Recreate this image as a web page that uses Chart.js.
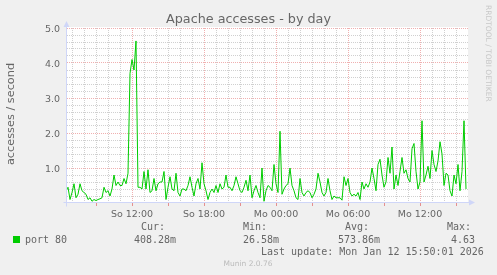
<!DOCTYPE html>
<html>
<head>
<meta charset="utf-8">
<script src="https://cdn.jsdelivr.net/npm/chart.js@4.4.0/dist/chart.umd.min.js"></script>
<style>
  html, body { margin: 0; padding: 0; background: #f0f0f0; }
  canvas { display: block; }
</style>
</head>
<body>
<canvas id="chart" width="497" height="275"></canvas>
<script>
// ===== Datos =====
const chartTitle = 'Apache accesses - by day';
const yAxisTitle = 'accesses / second';
const seriesName = 'port 80';
const firstPointHour = 6.5;        // So 06:30
const stepHours = 1 / 6;           // 10 min
const axisStartHour = 6 + 35 / 60; // So 06:35
const axisEndHour = 40;            // Mo 16:00

const accesses = [
  0.35, 0.45, 0.1, 0.3, 0.55, 0.15, 0.25, 0.55, 0.35, 0.3, 0.25, 0.1, 0.15, 0.05, 0.1, 0.07, 0.1, 0.12,
  0.15, 0.45, 0.3, 0.35, 0.2, 0.4, 0.8, 0.5, 0.6, 0.5, 0.5, 0.7, 0.55, 0.85, 3.7, 4.1, 3.8, 4.63,
  0.45, 0.45, 0.4, 0.9, 0.4, 0.95, 0.3, 0.35, 0.7, 0.35, 0.55, 0.6, 0.6, 0.9, 0.1, 0.45,
  0.75, 0.4, 0.35, 0.85, 0.3, 0.2, 0.4, 0.4, 0.35, 0.5, 0.75, 0.45, 0.2, 0.55, 0.7, 0.4,
  1.15, 0.55, 0.35, 0.1, 0.3, 0.4, 0.3, 0.5, 0.3, 0.55, 0.4, 0.45, 0.8, 0.45, 0.45, 0.35, 0.5,
  0.75, 0.55, 0.35, 0.3, 0.45, 0.65, 0.35, 0.8, 0.15, 0.35, 0.5, 0.3, 0.15, 1.0, 0.05, 0.35, 0.5,
  0.45, 0.35, 1.1, 0.55, 0.3, 2.05, 0.25, 0.4, 0.5, 0.55, 1.0, 0.5, 0.35, 0.15, 0.1, 0.7, 0.3,
  0.2, 0.3, 0.35, 0.3, 0.15, 0.25, 0.4, 0.85, 0.6, 0.3, 0.2, 0.3, 0.7, 0.35, 0.1, 0.2, 0.15,
  0.15, 0.15, 0.08, 0.75, 0.5, 0.7, 0.3, 0.2, 0.25, 0.2, 0.3, 0.1, 0.6, 0.4, 0.55, 0.45, 0.6,
  1.0, 0.7, 0.35, 1.1, 1.25, 0.8, 0.45, 0.6, 1.3, 0.85, 1.6, 0.4, 0.8, 0.5, 0.9, 1.3, 0.85,
  0.95, 0.7, 0.6, 1.55, 1.7, 0.9, 0.4, 0.6, 2.35, 0.6, 0.8, 1.05, 0.7, 1.5, 1.1, 0.9,
  1.2, 1.75, 1.4, 0.5, 0.85, 0.8, 0.35, 0.2, 0.8, 0.55, 1.1, 0.35, 0.9, 2.35, 0.4
];

const xTickHours = [12, 18, 24, 30, 36];
const xTickLabels = ['So 12:00', 'So 18:00', 'Mo 00:00', 'Mo 06:00', 'Mo 12:00'];
const yTickValues = [1, 2, 3, 4, 5];
const yTickLabels = ['1.0', '2.0', '3.0', '4.0', '5.0'];

const statLabels = ['Cur:', 'Min:', 'Avg:', 'Max:'];
const statValues = ['408.28m', '26.58m', '573.86m', '4.63'];
const lastUpdate = 'Last update: Mon Jan 12 15:50:01 2026';
const watermark = 'RRDTOOL / TOBI OETIKER';
const version = 'Munin 2.0.76';

// ===== Colores (estilo munin) =====
const FONT = '#666666', AXIS = '#cfd6f8', LINE = '#00cc00';
const GRID = 'rgba(143,143,143,0.42)', MGRID = 'rgba(222,79,79,0.45)';
const SANS = "'DejaVu Sans', sans-serif", MONO = "'DejaVu Sans Mono', monospace";

Chart.defaults.font.family = SANS;
Chart.defaults.animation = false;

const points = accesses.map((v, i) => ({ x: firstPointHour + i * stepHours, y: v }));

// fondo, ejes con flechas y textos del pie
const muninFrame = {
  id: 'muninFrame',
  beforeDraw(chart) {
    const { ctx, chartArea: a } = chart;
    ctx.save();
    ctx.fillStyle = '#f0f0f0';
    ctx.fillRect(0, 0, chart.width, chart.height);
    ctx.fillStyle = '#ffffff';
    ctx.fillRect(a.left, a.top - 1, a.right - a.left, a.bottom - a.top + 1);
    ctx.restore();
  },
  beforeDatasetsDraw(chart) {
    const { ctx, chartArea: a } = chart;
    const ax = a.left - 0.5, ay = a.bottom - 0.5;
    ctx.save();
    ctx.strokeStyle = AXIS; ctx.fillStyle = AXIS; ctx.lineWidth = 1;
    ctx.beginPath();
    ctx.moveTo(ax - 3, ay); ctx.lineTo(a.right + 1, ay);
    ctx.moveTo(ax, ay + 4); ctx.lineTo(ax, a.top - 1);
    ctx.stroke();
    ctx.beginPath();
    ctx.moveTo(ax, a.top - 7); ctx.lineTo(ax - 3, a.top - 1); ctx.lineTo(ax + 3, a.top - 1);
    ctx.fill();
    ctx.beginPath();
    ctx.moveTo(a.right + 7, ay); ctx.lineTo(a.right + 1, ay - 3); ctx.lineTo(a.right + 1, ay + 3);
    ctx.fill();
    ctx.restore();
  },
  afterDraw(chart) {
    const { ctx } = chart;
    ctx.save();
    ctx.textBaseline = 'middle';
    // titulo
    ctx.fillStyle = FONT;
    ctx.font = '12.75px ' + SANS;
    ctx.textAlign = 'center';
    ctx.fillText(chartTitle, 248.5, 19.5);
    // titulo eje y
    ctx.save();
    ctx.translate(11, 114);
    ctx.rotate(-Math.PI / 2);
    ctx.font = '11.3px ' + SANS;
    ctx.fillText(yAxisTitle, 0, 0);
    ctx.restore();
    // marca de agua
    ctx.save();
    ctx.translate(487.5, 5);
    ctx.rotate(Math.PI / 2);
    ctx.textAlign = 'left';
    ctx.fillStyle = '#c8c8c8';
    ctx.font = '7.5px ' + SANS;
    ctx.fillText(watermark, 0, 0);
    ctx.restore();
    // leyenda
    ctx.fillStyle = LINE;
    ctx.fillRect(13, 236, 7, 7);
    ctx.fillStyle = FONT;
    ctx.textAlign = 'left';
    ctx.font = '10px ' + MONO;
    ctx.fillText(seriesName, 25, 240.5);
    const labelX = [141, 243, 345, 447];
    const valueX = [134, 243, 338, 451];
    statLabels.forEach((t, i) => ctx.fillText(t, labelX[i], 227.5));
    statValues.forEach((t, i) => ctx.fillText(t, valueX[i], 240.5));
    ctx.fillText(lastUpdate, 261, 252);
    ctx.textAlign = 'center';
    ctx.fillStyle = '#bbbbbb';
    ctx.font = '7.5px ' + SANS;
    ctx.fillText(version, 248, 264.5);
    ctx.restore();
  }
};

const isMajorY = v => Math.abs(v - Math.round(v)) < 1e-6;

new Chart(document.getElementById('chart'), {
  type: 'line',
  data: {
    datasets: [{
      label: seriesName,
      data: points,
      borderColor: LINE,
      borderWidth: 1,
      pointRadius: 0,
      tension: 0,
      fill: false
    }]
  },
  options: {
    responsive: false,
    layout: { padding: { left: 0, right: 29, top: 28, bottom: 0 } },
    plugins: { legend: { display: false }, title: { display: false }, tooltip: { enabled: false } },
    scales: {
      x: {
        type: 'linear',
        min: axisStartHour,
        max: axisEndHour,
        afterFit(s) { s.height = 72; },
        afterBuildTicks(s) {
          const t = [];
          for (let h = Math.ceil(axisStartHour); h <= Math.floor(axisEndHour) - 1; h++) t.push({ value: h });
          s.ticks = t;
        },
        ticks: {
          autoSkip: false, maxRotation: 0, minRotation: 0, padding: 3,
          color: FONT, font: { size: 9.5 },
          callback: v => { const i = xTickHours.indexOf(v); return i >= 0 ? xTickLabels[i] : ''; }
        },
        grid: {
          color: c => (c.tick && c.tick.value % 6 === 0) ? MGRID : GRID,
          tickLength: 3,
          tickColor: c => (c.tick && c.tick.value % 3 === 0) ? 'rgba(222,79,79,0.6)' : 'rgba(0,0,0,0)'
        },
        border: { display: false, dash: [1, 1] }
      },
      y: {
        min: 0,
        max: 5,
        afterFit(s) { s.width = 67; },
        afterBuildTicks(s) {
          const t = [];
          for (let k = 1; k <= 25; k++) t.push({ value: Math.round(k * 2) / 10 });
          s.ticks = t;
        },
        ticks: {
          autoSkip: false, padding: 7, labelOffset: 2, color: FONT, font: { size: 9.5 },
          callback: v => { const i = yTickValues.findIndex(y => Math.abs(y - v) < 1e-6); return i >= 0 ? yTickLabels[i] : ''; }
        },
        grid: {
          drawTicks: false,
          color: c => (c.tick && isMajorY(c.tick.value)) ? MGRID : GRID
        },
        border: { display: false, dash: [1, 1] }
      }
    }
  },
  plugins: [muninFrame]
});
</script>
</body>
</html>
